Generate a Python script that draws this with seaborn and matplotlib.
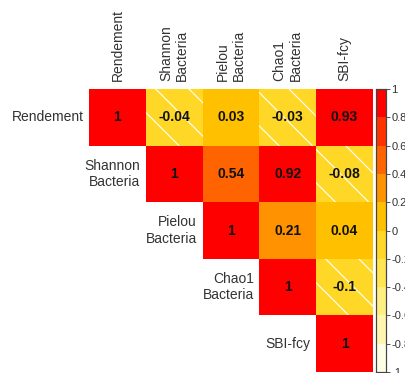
import numpy as np
import pandas as pd
import matplotlib
matplotlib.use("Agg")
import matplotlib.pyplot as plt
from matplotlib.colors import ListedColormap
from matplotlib.patches import Rectangle
import seaborn as sns

# --- dati -------------------------------------------------------------------
variables = ["Rendement", "Shannon\nBacteria", "Pielou\nBacteria",
             "Chao1\nBacteria", "SBI-fcy"]
corr_values = [
    [1.00, -0.04, 0.03, -0.03, 0.93],
    [-0.04, 1.00, 0.54, 0.92, -0.08],
    [0.03, 0.54, 1.00, 0.21, 0.04],
    [-0.03, 0.92, 0.21, 1.00, -0.10],
    [0.93, -0.08, 0.04, -0.10, 1.00],
]
bin_colors = ["#FFFFE6", "#FFF5B0", "#FFEE80", "#FFE650", "#FFD726",
              "#FFC000", "#FF9200", "#FF6400", "#FF3200", "#FF0000"]
cbar_ticks = [-1, -0.8, -0.6, -0.4, -0.2, 0, 0.2, 0.4, 0.6, 0.8, 1]

corr = pd.DataFrame(corr_values, index=variables, columns=variables)
n = len(variables)

labels = corr.map(lambda v: f"{v:g}")
mask = np.tril(np.ones((n, n), dtype=bool), k=-1)

plt.rcParams["font.family"] = ["Liberation Sans", "DejaVu Sans"]
plt.rcParams["hatch.linewidth"] = 0.8

fig = plt.figure(figsize=(4.05, 3.73), dpi=100)
ax = fig.add_axes([0.22, 0.003, 0.701, 0.758])
cax = fig.add_axes([0.929, 0.003, 0.024, 0.758])

sns.heatmap(corr, mask=mask, ax=ax, cbar_ax=cax,
            cmap=ListedColormap(bin_colors), vmin=-1, vmax=1,
            annot=labels, fmt="",
            annot_kws={"fontsize": 10, "fontweight": "bold", "color": "#111111"},
            linewidths=0,
            cbar_kws={"ticks": cbar_ticks},
            xticklabels=variables, yticklabels=False, square=False)

# tratteggio bianco sulle correlazioni negative
for i in range(n):
    for j in range(i, n):
        if corr.iloc[i, j] < 0:
            ax.add_patch(Rectangle((j, i), 1, 1, fill=False, hatch="\\",
                                   edgecolor="white", lw=0))

# etichette di colonna in alto
ax.xaxis.tick_top()
ax.tick_params(axis="x", length=0, pad=6, labelsize=10, labelcolor="#333333")
plt.setp(ax.get_xticklabels(), rotation=90, ha="center", va="bottom",
         multialignment="left")
ax.set_xlabel("")
ax.set_ylabel("")

# etichette di riga accanto alla diagonale
for i, name in enumerate(variables):
    ax.text(i - 0.1, i + 0.5, name, ha="right", va="center",
            fontsize=10, color="#333333", multialignment="right")

# barra dei colori
cax.tick_params(labelsize=8, length=3, width=0.6, colors="#333333", pad=1)
cax.set_yticklabels([f"{t:g}" for t in cbar_ticks])
for s in cax.spines.values():
    s.set_visible(True)
    s.set_edgecolor("#444444")
    s.set_linewidth(0.8)

fig.savefig("out.png", dpi=100)
